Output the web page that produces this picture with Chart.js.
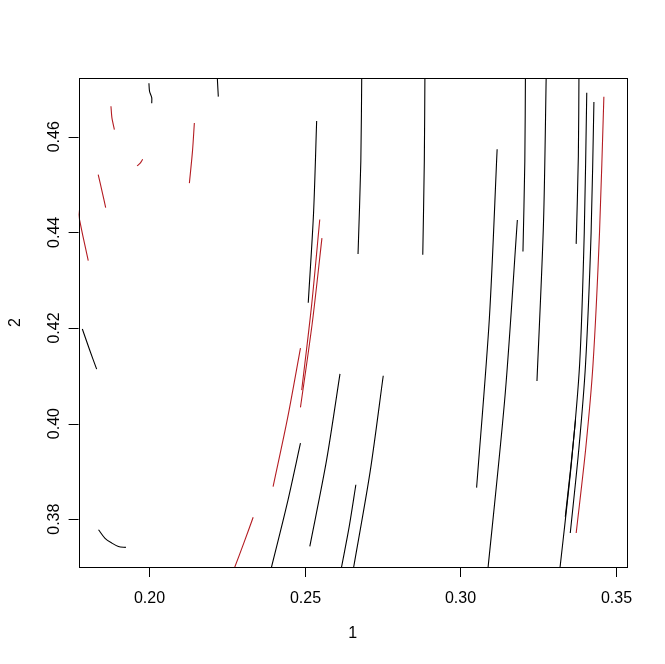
<!DOCTYPE html>
<html>
<head>
<meta charset="utf-8">
<script src="https://cdn.jsdelivr.net/npm/chart.js@4"></script>
<style>
  html, body { margin: 0; padding: 0; background: #fff; }
  #plot { display: block; }
</style>
</head>
<body>
<canvas id="plot" width="665" height="664"></canvas>
<script>
// axis ranges and ticks
const xRange = [0.1773, 0.3535];
const yRange = [0.3700, 0.4723];
const xTicks = [0.20, 0.25, 0.30, 0.35];
const yTicks = [0.38, 0.40, 0.42, 0.44, 0.46];
const xTitle = "1";
const yTitle = "2";

// contour pieces, [x, y] points
const blackCurves = [
  [[0.1999, 0.4712], [0.2001, 0.4695], [0.2008, 0.4682], [0.2008, 0.4670]],
  [[0.2219, 0.4735], [0.2219, 0.4722], [0.2222, 0.4684]],
  [[0.1785, 0.4198], [0.1808, 0.4155], [0.1831, 0.4114]],
  [[0.1837, 0.3778], [0.1858, 0.3760], [0.1880, 0.3750], [0.1901, 0.3743], [0.1925, 0.3741]],
  [[0.2486, 0.3959], [0.2443, 0.3832], [0.2393, 0.3700], [0.2389, 0.3690]],
  [[0.2538, 0.4633], [0.2528, 0.4440], [0.2511, 0.4253]],
  [[0.2613, 0.4104], [0.2570, 0.3924], [0.2516, 0.3743]],
  [[0.2683, 0.4740], [0.2680, 0.4550], [0.2671, 0.4355]],
  [[0.2664, 0.3872], [0.2643, 0.3786], [0.2618, 0.3700], [0.2615, 0.3690]],
  [[0.2752, 0.4100], [0.2710, 0.3900], [0.2657, 0.3700], [0.2654, 0.3690]],
  [[0.2886, 0.4740], [0.2884, 0.4550], [0.2879, 0.4353]],
  [[0.3118, 0.4574], [0.3093, 0.4220], [0.3052, 0.3866]],
  [[0.3183, 0.4426], [0.3144, 0.4063], [0.3089, 0.3700], [0.3086, 0.3690]],
  [[0.3209, 0.4740], [0.3207, 0.4550], [0.3201, 0.4360]],
  [[0.3276, 0.4740], [0.3267, 0.4420], [0.3246, 0.4089]],
  [[0.3381, 0.4740], [0.3379, 0.4560], [0.3372, 0.4376]],
  [[0.3406, 0.4692], [0.3398, 0.4400], [0.3383, 0.4123], [0.3357, 0.3920], [0.3321, 0.3704], [0.3318, 0.3690]],
  [[0.3429, 0.4673], [0.3420, 0.4400], [0.3402, 0.4123], [0.3381, 0.3950], [0.3353, 0.3771]],
  [[0.3370, 0.4008], [0.3354, 0.3905], [0.3337, 0.3805]]
];

const redCurves = [
  [[0.1877, 0.4664], [0.1880, 0.4640], [0.1888, 0.4615]],
  [[0.1961, 0.4539], [0.1971, 0.4545], [0.1979, 0.4553]],
  [[0.2145, 0.4629], [0.2139, 0.4570], [0.2129, 0.4503]],
  [[0.1836, 0.4521], [0.1848, 0.4487], [0.1860, 0.4452]],
  [[0.1768, 0.4452], [0.1786, 0.4395], [0.1804, 0.4341]],
  [[0.2334, 0.3804], [0.2305, 0.3752], [0.2275, 0.3700], [0.2269, 0.3690]],
  [[0.2486, 0.4158], [0.2445, 0.4013], [0.2398, 0.3868]],
  [[0.2548, 0.4427], [0.2522, 0.4249], [0.2490, 0.4070]],
  [[0.2555, 0.4388], [0.2524, 0.4211], [0.2486, 0.4034]],
  [[0.3461, 0.4684], [0.3447, 0.4400], [0.3426, 0.4123], [0.3403, 0.3950], [0.3372, 0.3771]]
];

const RED = "#b41c22";
const FONT = "'Liberation Sans', Arial, sans-serif";

const toDataset = (pts, color) => ({
  data: pts.map(([x, y]) => ({ x, y })),
  showLine: true,
  borderColor: color,
  borderWidth: 1.1,
  pointRadius: 0,
  tension: 0.3,
  fill: false
});

const datasets = [
  ...blackCurves.map(c => toDataset(c, "#000")),
  ...redCurves.map(c => toDataset(c, RED))
];

// R-style box, ticks and labels drawn from the chart's own scales
const rAxes = {
  id: "rAxes",
  afterDraw(chart) {
    const { ctx, chartArea: a, scales: { x, y } } = chart;
    ctx.save();
    ctx.strokeStyle = "#000";
    ctx.lineWidth = 1;
    ctx.strokeRect(Math.round(a.left) + 0.5, Math.round(a.top) + 0.5,
      Math.round(a.right - a.left), Math.round(a.bottom - a.top));

    ctx.fillStyle = "#000";
    ctx.font = "16px " + FONT;
    ctx.textAlign = "center";
    ctx.textBaseline = "middle";
    ctx.beginPath();
    xTicks.forEach(v => {
      const px = Math.round(x.getPixelForValue(v)) + 0.5;
      ctx.moveTo(px, a.bottom);
      ctx.lineTo(px, a.bottom + 10);
      ctx.fillText(v.toFixed(2), px, 599);
    });
    yTicks.forEach(v => {
      const py = Math.round(y.getPixelForValue(v)) + 0.5;
      ctx.moveTo(a.left, py);
      ctx.lineTo(a.left - 10, py);
    });
    ctx.stroke();

    yTicks.forEach(v => {
      const py = y.getPixelForValue(v);
      ctx.save();
      ctx.translate(55, py);
      ctx.rotate(-Math.PI / 2);
      ctx.fillText(v.toFixed(2), 0, 0);
      ctx.restore();
    });

    ctx.fillText(xTitle, (a.left + a.right) / 2, 634);
    ctx.save();
    ctx.translate(16, (a.top + a.bottom) / 2);
    ctx.rotate(-Math.PI / 2);
    ctx.fillText(yTitle, 0, 0);
    ctx.restore();
    ctx.restore();
  }
};

new Chart(document.getElementById("plot"), {
  type: "scatter",
  data: { datasets },
  options: {
    responsive: false,
    animation: false,
    devicePixelRatio: 1,
    layout: { padding: { left: 78.6, top: 78, right: 38.1, bottom: 97 } },
    scales: {
      x: { type: "linear", display: false, min: xRange[0], max: xRange[1] },
      y: { type: "linear", display: false, min: yRange[0], max: yRange[1] }
    },
    plugins: { legend: { display: false }, tooltip: { enabled: false } }
  },
  plugins: [rAxes]
});
</script>
</body>
</html>
